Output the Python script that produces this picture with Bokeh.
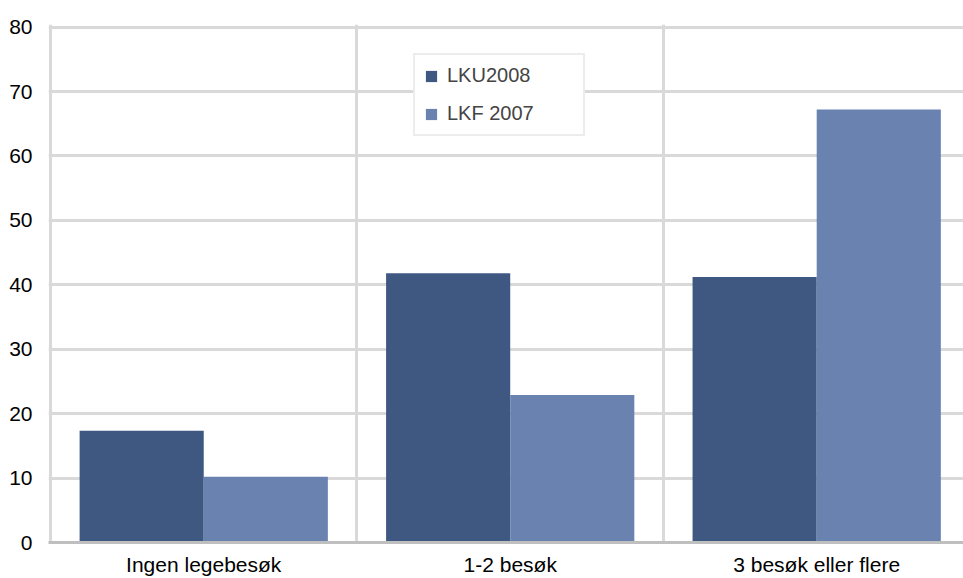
from bokeh.plotting import figure
from bokeh.models import ColumnDataSource, FixedTicker, Range1d, Legend, LegendItem
from bokeh.embed import file_html
from bokeh.resources import INLINE

# data
categories = ["Ingen legebesøk", "1-2 besøk", "3 besøk eller flere"]
lku2008 = [17.35, 41.8, 41.2]
lkf2007 = [10.2, 22.9, 67.2]
series_names = ["LKU2008", "LKF 2007"]
y_ticks = [0, 10, 20, 30, 40, 50, 60, 70, 80]

DARK = "#3E5882"
LIGHT = "#6A82B0"
GRID = "#D9D9D9"
FONT = "Liberation Sans"

bar_w = 0.405
centers = [i + 0.5 for i in range(len(categories))]

src = ColumnDataSource(data=dict(
    x_a=[c - bar_w / 2 for c in centers],
    x_b=[c + bar_w / 2 for c in centers],
    lku=lku2008,
    lkf=lkf2007,
))

p = figure(
    width=963,
    height=578,
    x_range=Range1d(-0.0065, 2.979),
    y_range=Range1d(0, 80.4),
    output_backend="svg",
    toolbar_location=None,
    min_border_left=48,
    min_border_right=0,
    min_border_top=24,
    min_border_bottom=35,
)
p.outline_line_color = None

# bars
r1 = p.vbar(x="x_a", top="lku", width=bar_w, source=src,
            fill_color=DARK, line_color=None)
r2 = p.vbar(x="x_b", top="lkf", width=bar_w, source=src,
            fill_color=LIGHT, line_color=None)

# grid
p.xgrid.ticker = FixedTicker(ticks=list(range(len(categories) + 1)))
p.xgrid.grid_line_color = GRID
p.xgrid.grid_line_width = 3
p.ygrid.ticker = FixedTicker(ticks=y_ticks)
p.ygrid.grid_line_color = GRID
p.ygrid.grid_line_width = 3

# x axis
p.xaxis.ticker = FixedTicker(ticks=centers)
p.xaxis.major_label_overrides = {c: lab for c, lab in zip(centers, categories)}
p.xaxis.major_tick_line_color = None
p.xaxis.major_tick_out = 0
p.xaxis.major_tick_in = 0
p.xaxis.minor_tick_line_color = None
p.xaxis.axis_line_color = "#BFBFBF"
p.xaxis.axis_line_width = 3
p.xaxis.major_label_standoff = 10
p.xaxis.major_label_text_font = FONT
p.xaxis.major_label_text_font_size = "21px"
p.xaxis.major_label_text_color = "#000000"

# y axis
p.yaxis.ticker = FixedTicker(ticks=y_ticks)
p.yaxis.axis_line_color = None
p.yaxis.major_tick_line_color = None
p.yaxis.major_tick_out = 0
p.yaxis.major_tick_in = 0
p.yaxis.minor_tick_line_color = None
p.yaxis.major_label_standoff = 16
p.yaxis.major_label_text_font = FONT
p.yaxis.major_label_text_font_size = "21px"
p.yaxis.major_label_text_color = "#000000"

# legend
legend = Legend(
    items=[LegendItem(label=series_names[0], renderers=[r1]),
           LegendItem(label=series_names[1], renderers=[r2])],
    location=(365, 406),
    glyph_width=14,
    glyph_height=14,
    label_standoff=9,
    label_text_font=FONT,
    label_text_font_size="20px",
    label_height=22,
    label_width=127,
    spacing=15,
    padding=9,
    border_line_color=GRID,
    border_line_width=2,
    background_fill_color="white",
    background_fill_alpha=1.0,
)
p.add_layout(legend, "center")

open("out.html", "w").write(file_html(p, INLINE))
